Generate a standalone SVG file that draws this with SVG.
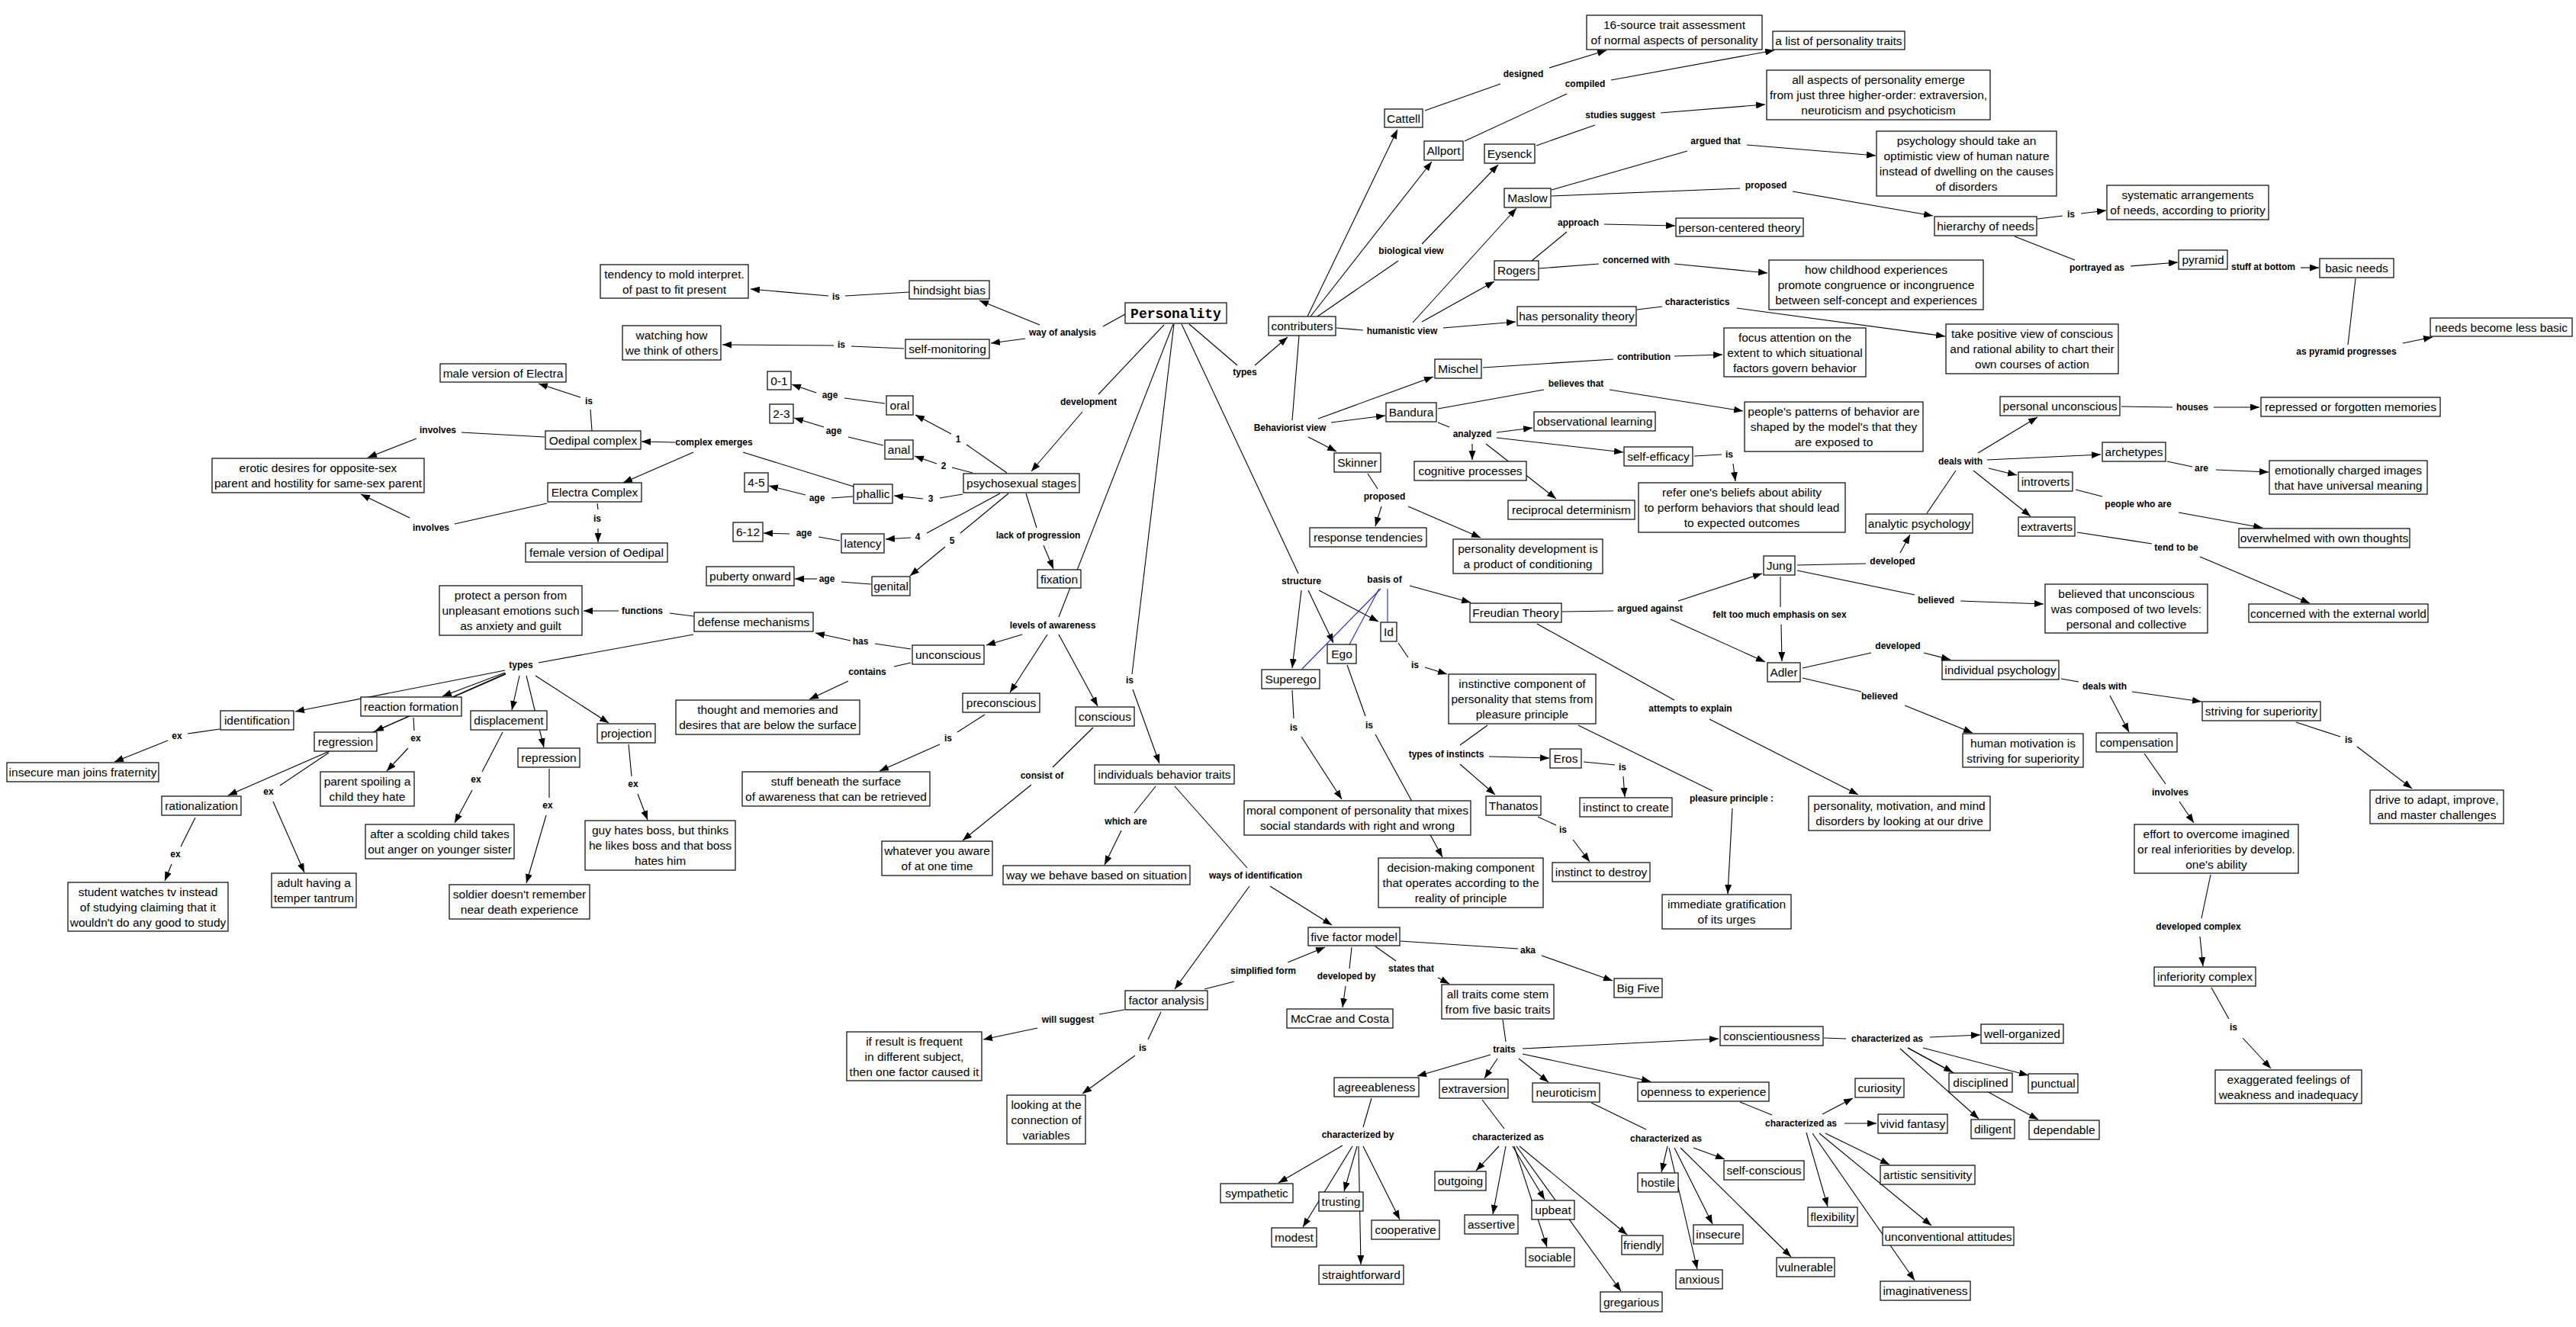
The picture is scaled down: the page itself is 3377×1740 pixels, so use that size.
<svg xmlns="http://www.w3.org/2000/svg" width="3377" height="1740" viewBox="0 0 3377 1740">
<style>
.bg{fill:#fff}
.n rect{fill:#fff;stroke:#000;stroke-width:1.2}
.n text{font-family:"Liberation Sans",Arial,sans-serif;font-size:15.5px;text-anchor:middle;fill:#000}
.n text.root{font-family:"Liberation Mono","Courier New",monospace;font-size:18px;font-weight:bold}
.lb text{font-family:"Liberation Sans",Arial,sans-serif;font-size:12px;font-weight:bold;text-anchor:middle;fill:#000}
.c path{stroke:#000;stroke-width:1.1;fill:none}
.c path.a{marker-end:url(#ah)}
.c path.b{stroke:#2222cc}
</style>
<defs>
<marker id="ah" viewBox="0 0 12 9" refX="12" refY="4.5" markerWidth="12" markerHeight="9" markerUnits="userSpaceOnUse" orient="auto"><path d="M0,0 L12,4.5 L0,9 z" fill="#000"/></marker>
</defs>
<rect class="bg" x="0" y="0" width="3377" height="1740"/>
<g id="connectors" class="c">
<path d="M1475,412 L1446,428"/><path class="a" d="M1363,426 L1284,394"/><path class="a" d="M1344,444 L1299,450"/>
<path d="M1192,383 L1108,388"/><path class="a" d="M1086,388 L984,379"/>
<path d="M1185,457 L1116,454"/><path class="a" d="M1093,453 L947,452"/>
<path d="M1526,426 L1440,517"/><path class="a" d="M1419,540 L1352,618"/>
<path d="M1320,620 L1267,583"/><path class="a" d="M1247,569 L1200,544"/>
<path d="M1275,620 L1248,613"/><path class="a" d="M1228,608 L1199,598"/>
<path d="M1262,648 L1232,653"/><path class="a" d="M1210,654 L1172,650"/>
<path d="M1311,647 L1215,699"/><path class="a" d="M1194,705 L1161,707"/>
<path d="M1322,647 L1259,699"/><path class="a" d="M1239,717 L1193,755"/>
<path d="M1345,647 L1359,692"/><path class="a" d="M1368,715 L1381,746"/>
<path d="M1160,529 L1107,522"/><path class="a" d="M1070,515 L1038,504"/>
<path d="M1158,584 L1112,573"/><path class="a" d="M1080,560 L1041,548"/>
<path d="M1118,651 L1090,653"/><path class="a" d="M1056,649 L1008,637"/>
<path d="M1119,638 L974,593"/><path class="a" d="M885,580 L841,579"/><path class="a" d="M909,593 L817,633"/>
<path d="M1101,709 L1073,704"/><path class="a" d="M1035,700 L1001,699"/>
<path d="M1142,766 L1103,763"/><path class="a" d="M1071,759 L1042,759"/>
<path d="M776,565 L774,537"/><path class="a" d="M761,521 L706,503"/>
<path d="M714,573 L605,567"/><path class="a" d="M546,575 L482,600"/>
<path d="M717,660 L596,687"/><path class="a" d="M537,679 L473,648"/>
<path d="M783,660 L784,668"/><path class="a" d="M784,693 L784,711"/>
<path d="M1559,425 L1622,479"/><path class="a" d="M1645,479 L1688,442"/>
<path d="M1538,425 L1388,809"/>
<path d="M1539,425 L1484,884"/><path class="a" d="M1485,904 L1520,1001"/>
<path d="M1549,425 L1702,752"/>
<path class="a" d="M1714,415 L1832,170"/><path class="a" d="M1718,415 L1877,212"/>
<path d="M1727,415 L1833,342"/><path class="a" d="M1864,320 L1964,216"/>
<path d="M1752,430 L1787,433"/><path class="a" d="M1852,423 L1988,273"/><path class="a" d="M1864,422 L1959,369"/><path class="a" d="M1892,430 L1987,422"/>
<path d="M1868,145 L1967,110"/><path class="a" d="M2031,89 L2106,66"/>
<path d="M1920,185 L2054,123"/><path class="a" d="M2112,105 L2326,66"/>
<path d="M2014,191 L2091,164"/><path class="a" d="M2177,148 L2314,137"/>
<path d="M2034,249 L2212,198"/><path class="a" d="M2290,190 L2459,204"/>
<path d="M2034,257 L2281,247"/><path class="a" d="M2350,251 L2534,283"/>
<path d="M2008,342 L2054,304"/><path class="a" d="M2103,294 L2196,296"/>
<path d="M2017,352 L2096,346"/><path class="a" d="M2195,346 L2317,358"/>
<path d="M2146,406 L2179,402"/><path class="a" d="M2277,404 L2550,441"/>
<path d="M2671,287 L2704,283"/><path class="a" d="M2728,280 L2761,276"/>
<path d="M2641,310 L2720,341"/><path class="a" d="M2793,349 L2855,344"/>
<path class="a" d="M3016,351 L3040,351"/>
<path d="M3088,365 L3078,452"/><path class="a" d="M3150,450 L3189,442"/>
<path d="M1944,482 L2115,471"/><path class="a" d="M2195,467 L2258,465"/>
<path d="M1703,440 L1694,551"/>
<path class="a" d="M1728,549 L1879,494"/><path class="a" d="M1745,554 L1816,545"/><path class="a" d="M1715,573 L1752,592"/>
<path d="M1885,536 L2024,511"/><path class="a" d="M2110,511 L2285,539"/>
<path d="M1885,554 L1900,560"/>
<path class="a" d="M1962,567 L2009,561"/><path class="a" d="M1962,574 L2128,593"/><path class="a" d="M1930,582 L1930,603"/><path class="a" d="M1948,582 L2040,654"/>
<path d="M2221,598 L2257,596"/><path class="a" d="M2272,608 L2275,631"/>
<path d="M1793,621 L1806,641"/><path class="a" d="M1811,664 L1803,690"/><path class="a" d="M1846,664 L1941,705"/>
<path class="a" d="M1706,774 L1694,876"/><path class="a" d="M1715,774 L1748,843"/><path class="a" d="M1729,774 L1807,815"/>
<path class="b" d="M1810,772 L1707,877"/><path class="b" d="M1808,772 L1769,845"/><path class="b" d="M1819,772 L1819,816"/>
<path class="a" d="M1848,768 L1928,790"/>
<path d="M2048,802 L2115,801"/>
<path class="a" d="M2200,788 L2310,752"/><path class="a" d="M2190,812 L2314,868"/>
<path d="M2334,756 L2334,796"/><path class="a" d="M2335,819 L2336,867"/>
<path d="M2356,741 L2446,739"/><path class="a" d="M2491,725 L2504,701"/>
<path d="M2356,748 L2510,780"/><path class="a" d="M2570,788 L2679,792"/>
<path d="M2015,818 L2195,918"/><path class="a" d="M2241,943 L2436,1042"/>
<path d="M2526,673 L2564,617"/>
<path class="a" d="M2593,594 L2671,547"/><path class="a" d="M2605,603 L2754,596"/><path class="a" d="M2607,614 L2644,623"/><path class="a" d="M2587,617 L2662,677"/>
<path d="M2781,533 L2848,534"/><path class="a" d="M2902,534 L2962,534"/>
<path d="M2841,605 L2874,612"/><path class="a" d="M2905,616 L2974,619"/>
<path d="M2721,642 L2756,651"/><path class="a" d="M2856,672 L2966,692"/>
<path d="M2723,698 L2821,713"/><path class="a" d="M2884,730 L3028,791"/>
<path d="M2363,876 L2453,856"/><path class="a" d="M2522,856 L2557,865"/>
<path d="M2363,889 L2440,907"/><path class="a" d="M2497,925 L2586,961"/>
<path d="M1833,843 L1846,862"/><path class="a" d="M1868,875 L1897,884"/>
<path d="M1694,905 L1696,942"/><path class="a" d="M1706,966 L1759,1048"/>
<path d="M1766,872 L1790,939"/><path class="a" d="M1803,963 L1891,1124"/>
<path d="M1950,951 L1914,977"/>
<path class="a" d="M1952,992 L2031,994"/><path class="a" d="M1914,1002 L1960,1042"/>
<path d="M2076,999 L2117,1003"/><path class="a" d="M2128,1018 L2130,1045"/>
<path d="M2016,1071 L2040,1082"/><path class="a" d="M2062,1101 L2084,1130"/>
<path d="M2069,951 L2245,1037"/><path class="a" d="M2271,1060 L2265,1172"/>
<path d="M1836,1234 L1990,1244"/><path class="a" d="M2021,1253 L2114,1286"/>
<path d="M1540,1031 L1635,1138"/>
<path class="a" d="M1665,1162 L1746,1213"/><path class="a" d="M1638,1162 L1540,1297"/>
<path d="M909,808 L878,804"/><path class="a" d="M811,801 L765,801"/>
<path d="M909,832 L706,869"/>
<path d="M1194,851 L1147,844"/><path class="a" d="M1115,840 L1069,830"/>
<path d="M1194,869 L1172,874"/><path class="a" d="M1112,893 L1061,917"/>
<path class="a" d="M1340,832 L1293,846"/><path class="a" d="M1373,832 L1324,908"/><path class="a" d="M1388,832 L1439,926"/>
<path d="M1291,937 L1255,960"/><path class="a" d="M1232,976 L1153,1011"/>
<path d="M1433,954 L1380,1006"/><path class="a" d="M1352,1029 L1262,1102"/>
<path d="M1515,1031 L1487,1066"/><path class="a" d="M1470,1089 L1448,1134"/>
<path d="M824,976 L828,1018"/><path class="a" d="M836,1041 L849,1075"/>
<path class="a" d="M662,879 L387,933"/><path class="a" d="M662,882 L580,913"/><path class="a" d="M663,883 L491,959"/><path class="a" d="M663,884 L299,1043"/>
<path class="a" d="M681,886 L671,931"/><path class="a" d="M690,886 L713,980"/><path class="a" d="M702,886 L798,948"/>
<path d="M288,956 L246,962"/><path class="a" d="M220,971 L150,999"/>
<path d="M542,941 L543,958"/><path class="a" d="M535,981 L507,1011"/>
<path d="M431,987 L367,1030"/><path class="a" d="M358,1051 L399,1144"/>
<path d="M256,1072 L237,1110"/><path class="a" d="M225,1133 L216,1155"/>
<path d="M659,960 L632,1012"/><path class="a" d="M619,1036 L596,1079"/>
<path d="M720,1008 L720,1046"/><path class="a" d="M716,1069 L690,1158"/>
<path d="M1579,1297 L1618,1287"/><path class="a" d="M1688,1262 L1737,1242"/>
<path d="M1474,1324 L1441,1330"/><path class="a" d="M1360,1348 L1289,1363"/>
<path d="M1522,1327 L1505,1363"/><path class="a" d="M1488,1384 L1419,1434"/>
<path d="M1772,1242 L1769,1270"/><path class="a" d="M1764,1293 L1760,1321"/>
<path d="M1803,1241 L1830,1260"/><path class="a" d="M1885,1282 L1900,1290"/>
<path d="M1970,1337 L1974,1366"/>
<path class="a" d="M1996,1375 L2253,1362"/><path class="a" d="M1954,1383 L1858,1411"/><path class="a" d="M1963,1388 L1946,1414"/><path class="a" d="M1991,1388 L2030,1419"/><path class="a" d="M1996,1382 L2164,1418"/>
<path d="M2391,1361 L2420,1362"/>
<path class="a" d="M2530,1360 L2596,1357"/><path class="a" d="M2501,1374 L2560,1406"/><path class="a" d="M2501,1374 L2672,1468"/><path class="a" d="M2521,1374 L2659,1410"/><path class="a" d="M2491,1375 L2594,1467"/>
<path d="M2281,1445 L2323,1462"/>
<path class="a" d="M2389,1461 L2429,1440"/><path class="a" d="M2418,1473 L2460,1473"/><path class="a" d="M2393,1486 L2477,1527"/><path class="a" d="M2368,1485 L2396,1582"/><path class="a" d="M2385,1486 L2532,1607"/><path class="a" d="M2376,1486 L2510,1679"/>
<path d="M1798,1440 L1787,1478"/>
<path class="a" d="M1760,1502 L1676,1551"/><path class="a" d="M1779,1503 L1762,1562"/><path class="a" d="M1773,1503 L1708,1609"/><path class="a" d="M1787,1503 L1835,1599"/><path class="a" d="M1781,1503 L1784,1658"/>
<path d="M1943,1442 L1972,1480"/>
<path class="a" d="M1965,1503 L1935,1535"/><path class="a" d="M1974,1503 L1957,1592"/><path class="a" d="M1983,1503 L2025,1573"/><path class="a" d="M1985,1503 L2028,1635"/><path class="a" d="M1992,1503 L2133,1619"/><path class="a" d="M1988,1503 L2125,1693"/>
<path d="M2086,1446 L2158,1481"/>
<path class="a" d="M2186,1503 L2178,1537"/><path class="a" d="M2220,1505 L2261,1520"/><path class="a" d="M2188,1505 L2225,1664"/><path class="a" d="M2195,1505 L2245,1605"/><path class="a" d="M2203,1505 L2348,1648"/>
<path d="M2702,890 L2725,894"/>
<path class="a" d="M2795,907 L2886,920"/><path class="a" d="M2766,912 L2791,960"/>
<path d="M3010,947 L3068,966"/><path class="a" d="M3090,979 L3162,1034"/>
<path d="M2811,988 L2839,1028"/><path class="a" d="M2857,1051 L2876,1079"/>
<path d="M2898,1147 L2886,1204"/><path class="a" d="M2884,1228 L2888,1267"/>
<path d="M2899,1295 L2922,1336"/><path class="a" d="M2940,1361 L2977,1401"/>
</g>
<g id="nodes">
<g id="n-personality" class="n"><rect x="1475" y="397" width="133" height="27"/><text class="root" x="1541.5" y="416.5">Personality</text></g>
<g id="n-tendency" class="n"><rect x="787" y="347" width="194" height="44"/><text x="884" y="364.5">tendency to mold interpret.</text><text x="884" y="384.5">of past to fit present</text></g>
<g id="n-hindsight" class="n"><rect x="1192" y="368" width="105" height="24"/><text x="1244.5" y="385.5">hindsight bias</text></g>
<g id="n-watching" class="n"><rect x="816" y="427" width="129" height="45"/><text x="880.5" y="445">watching how</text><text x="880.5" y="465">we think of others</text></g>
<g id="n-selfmon" class="n"><rect x="1187" y="445" width="110" height="25"/><text x="1242" y="463">self-monitoring</text></g>
<g id="n-male" class="n"><rect x="577" y="477" width="165" height="24"/><text x="659.5" y="494.5">male version of Electra</text></g>
<g id="n-oedipal" class="n"><rect x="715" y="565" width="125" height="24"/><text x="777.5" y="582.5">Oedipal complex</text></g>
<g id="n-erotic" class="n"><rect x="278" y="601" width="278" height="45"/><text x="417" y="619">erotic desires for opposite-sex</text><text x="417" y="639">parent and hostility for same-sex parent</text></g>
<g id="n-electra" class="n"><rect x="718" y="633" width="123" height="25"/><text x="779.5" y="651">Electra Complex</text></g>
<g id="n-female" class="n"><rect x="689" y="712" width="186" height="25"/><text x="782" y="730">female version of Oedipal</text></g>
<g id="n-age01" class="n"><rect x="1006" y="487" width="31" height="24"/><text x="1021.5" y="504.5">0-1</text></g>
<g id="n-oral" class="n"><rect x="1162" y="519" width="35" height="25"/><text x="1179.5" y="537">oral</text></g>
<g id="n-age23" class="n"><rect x="1009" y="530" width="31" height="25"/><text x="1024.5" y="548">2-3</text></g>
<g id="n-anal" class="n"><rect x="1160" y="577" width="37" height="25"/><text x="1178.5" y="595">anal</text></g>
<g id="n-psychosexual" class="n"><rect x="1263" y="621" width="152" height="25"/><text x="1339" y="639">psychosexual stages</text></g>
<g id="n-age45" class="n"><rect x="976" y="620" width="31" height="25"/><text x="991.5" y="638">4-5</text></g>
<g id="n-phallic" class="n"><rect x="1119" y="635" width="51" height="25"/><text x="1144.5" y="653">phallic</text></g>
<g id="n-age612" class="n"><rect x="961" y="685" width="39" height="25"/><text x="980.5" y="703">6-12</text></g>
<g id="n-latency" class="n"><rect x="1103" y="700" width="56" height="25"/><text x="1131" y="718">latency</text></g>
<g id="n-puberty" class="n"><rect x="926" y="743" width="115" height="25"/><text x="983.5" y="761">puberty onward</text></g>
<g id="n-genital" class="n"><rect x="1143" y="756" width="50" height="25"/><text x="1168" y="774">genital</text></g>
<g id="n-fixation" class="n"><rect x="1360" y="747" width="57" height="24"/><text x="1388.5" y="764.5">fixation</text></g>
<g id="n-protect" class="n"><rect x="576" y="768" width="187" height="65"/><text x="669.5" y="786">protect a person from</text><text x="669.5" y="806">unpleasant emotions such</text><text x="669.5" y="826">as anxiety and guilt</text></g>
<g id="n-defense" class="n"><rect x="910" y="803" width="156" height="25"/><text x="988" y="821">defense mechanisms</text></g>
<g id="n-unconscious" class="n"><rect x="1196" y="846" width="94" height="25"/><text x="1243" y="864">unconscious</text></g>
<g id="n-thought" class="n"><rect x="886" y="918" width="241" height="45"/><text x="1006.5" y="936">thought and memories and</text><text x="1006.5" y="956">desires that are below the surface</text></g>
<g id="n-preconscious" class="n"><rect x="1262" y="909" width="101" height="25"/><text x="1312.5" y="927">preconscious</text></g>
<g id="n-conscious" class="n"><rect x="1410" y="927" width="77" height="25"/><text x="1448.5" y="945">conscious</text></g>
<g id="n-reaction" class="n"><rect x="473" y="914" width="132" height="25"/><text x="539" y="932">reaction formation</text></g>
<g id="n-identification" class="n"><rect x="289" y="932" width="96" height="25"/><text x="337" y="950">identification</text></g>
<g id="n-displacement" class="n"><rect x="617" y="932" width="100" height="25"/><text x="667" y="950">displacement</text></g>
<g id="n-projection" class="n"><rect x="783" y="949" width="76" height="25"/><text x="821" y="967">projection</text></g>
<g id="n-regression" class="n"><rect x="412" y="960" width="82" height="25"/><text x="453" y="978">regression</text></g>
<g id="n-repression" class="n"><rect x="679" y="981" width="81" height="25"/><text x="719.5" y="999">repression</text></g>
<g id="n-insecureman" class="n"><rect x="9" y="1000" width="199" height="25"/><text x="108.5" y="1018">insecure man joins fraternity</text></g>
<g id="n-parent" class="n"><rect x="420" y="1012" width="123" height="45"/><text x="481.5" y="1030">parent spoiling a</text><text x="481.5" y="1050">child they hate</text></g>
<g id="n-stuff" class="n"><rect x="973" y="1012" width="246" height="45"/><text x="1096" y="1030">stuff beneath the surface</text><text x="1096" y="1050">of awareness that can be retrieved</text></g>
<g id="n-ibt" class="n"><rect x="1435" y="1003" width="183" height="25"/><text x="1526.5" y="1021">individuals behavior traits</text></g>
<g id="n-rationalization" class="n"><rect x="212" y="1044" width="104" height="25"/><text x="264" y="1062">rationalization</text></g>
<g id="n-guy" class="n"><rect x="767" y="1076" width="197" height="65"/><text x="865.5" y="1094">guy hates boss, but thinks</text><text x="865.5" y="1114">he likes boss and that boss</text><text x="865.5" y="1134">hates him</text></g>
<g id="n-scolding" class="n"><rect x="479" y="1081" width="195" height="45"/><text x="576.5" y="1099">after a scolding child takes</text><text x="576.5" y="1119">out anger on younger sister</text></g>
<g id="n-whatever" class="n"><rect x="1156" y="1103" width="145" height="45"/><text x="1228.5" y="1121">whatever you aware</text><text x="1228.5" y="1141">of at one time</text></g>
<g id="n-waywebehave" class="n"><rect x="1315" y="1135" width="245" height="25"/><text x="1437.5" y="1153">way we behave based on situation</text></g>
<g id="n-adult" class="n"><rect x="356" y="1145" width="111" height="45"/><text x="411.5" y="1163">adult having a</text><text x="411.5" y="1183">temper tantrum</text></g>
<g id="n-student" class="n"><rect x="89" y="1157" width="210" height="64"/><text x="194" y="1174.5">student watches tv instead</text><text x="194" y="1194.5">of studying claiming that it</text><text x="194" y="1214.5">wouldn't do any good to study</text></g>
<g id="n-soldier" class="n"><rect x="589" y="1160" width="184" height="45"/><text x="681" y="1178">soldier doesn't remember</text><text x="681" y="1198">near death experience</text></g>
<g id="n-16source" class="n"><rect x="2080" y="20" width="230" height="45"/><text x="2195" y="38">16-source trait assessment</text><text x="2195" y="58">of normal  aspects of personality</text></g>
<g id="n-list" class="n"><rect x="2324" y="41" width="173" height="24"/><text x="2410.5" y="58.5">a list of personality traits</text></g>
<g id="n-allaspects" class="n"><rect x="2316" y="92" width="293" height="65"/><text x="2462.5" y="110">all aspects of personality emerge</text><text x="2462.5" y="130">from just three higher-order: extraversion,</text><text x="2462.5" y="150">neuroticism and psychoticism</text></g>
<g id="n-cattell" class="n"><rect x="1815" y="143" width="50" height="24"/><text x="1840" y="160.5">Cattell</text></g>
<g id="n-allport" class="n"><rect x="1867" y="185" width="51" height="25"/><text x="1892.5" y="203">Allport</text></g>
<g id="n-eysenck" class="n"><rect x="1946" y="189" width="66" height="25"/><text x="1979" y="207">Eysenck</text></g>
<g id="n-psychology" class="n"><rect x="2460" y="172" width="236" height="85"/><text x="2578" y="190">psychology should take an</text><text x="2578" y="210">optimistic view of human nature</text><text x="2578" y="230">instead of dwelling on the causes</text><text x="2578" y="250">of disorders</text></g>
<g id="n-maslow" class="n"><rect x="1972" y="247" width="61" height="25"/><text x="2002.5" y="265">Maslow</text></g>
<g id="n-hierarchy" class="n"><rect x="2536" y="284" width="134" height="25"/><text x="2603" y="302">hierarchy of needs</text></g>
<g id="n-personcentered" class="n"><rect x="2197" y="286" width="167" height="24"/><text x="2280.5" y="303.5">person-centered theory</text></g>
<g id="n-rogers" class="n"><rect x="1959" y="342" width="58" height="25"/><text x="1988" y="360">Rogers</text></g>
<g id="n-childhood" class="n"><rect x="2319" y="341" width="281" height="65"/><text x="2459.5" y="359">how childhood experiences</text><text x="2459.5" y="379">promote congruence or incongruence</text><text x="2459.5" y="399">between  self-concept and experiences</text></g>
<g id="n-haspt" class="n"><rect x="1989" y="402" width="156" height="25"/><text x="2067" y="420">has personality theory</text></g>
<g id="n-contributers" class="n"><rect x="1663" y="415" width="88" height="25"/><text x="1707" y="433">contributers</text></g>
<g id="n-takepositive" class="n"><rect x="2551" y="425" width="226" height="65"/><text x="2664" y="443">take positive view of conscious</text><text x="2664" y="463">and rational ability to chart their</text><text x="2664" y="483">own courses of action</text></g>
<g id="n-systematic" class="n"><rect x="2762" y="243" width="212" height="45"/><text x="2868" y="261">systematic arrangements</text><text x="2868" y="281">of needs, according to priority</text></g>
<g id="n-pyramid" class="n"><rect x="2856" y="328" width="64" height="25"/><text x="2888" y="346">pyramid</text></g>
<g id="n-basicneeds" class="n"><rect x="3041" y="339" width="97" height="25"/><text x="3089.5" y="357">basic needs</text></g>
<g id="n-lessbasic" class="n"><rect x="3186" y="417" width="186" height="24"/><text x="3279" y="434.5">needs become less basic</text></g>
<g id="n-focus" class="n"><rect x="2260" y="430" width="186" height="64"/><text x="2353" y="447.5">focus attention on the</text><text x="2353" y="467.5">extent to which situational</text><text x="2353" y="487.5">factors govern behavior</text></g>
<g id="n-mischel" class="n"><rect x="1881" y="471" width="61" height="25"/><text x="1911.5" y="489">Mischel</text></g>
<g id="n-bandura" class="n"><rect x="1817" y="528" width="66" height="25"/><text x="1850" y="546">Bandura</text></g>
<g id="n-observational" class="n"><rect x="2011" y="540" width="159" height="25"/><text x="2090.5" y="558">observational learning</text></g>
<g id="n-patterns" class="n"><rect x="2287" y="527" width="234" height="65"/><text x="2404" y="545">people's patterns of behavior are</text><text x="2404" y="565">shaped by the model's that they</text><text x="2404" y="585">are exposed to</text></g>
<g id="n-skinner" class="n"><rect x="1749" y="594" width="61" height="25"/><text x="1779.5" y="612">Skinner</text></g>
<g id="n-cognitive" class="n"><rect x="1854" y="605" width="147" height="25"/><text x="1927.5" y="623">cognitive processes</text></g>
<g id="n-selfefficacy" class="n"><rect x="2129" y="586" width="90" height="25"/><text x="2174" y="604">self-efficacy</text></g>
<g id="n-refer" class="n"><rect x="2148" y="633" width="271" height="65"/><text x="2283.5" y="651">refer one's beliefs about ability</text><text x="2283.5" y="671">to perform behaviors that should lead</text><text x="2283.5" y="691">to expected outcomes</text></g>
<g id="n-reciprocal" class="n"><rect x="1977" y="656" width="166" height="25"/><text x="2060" y="674">reciprocal determinism</text></g>
<g id="n-response" class="n"><rect x="1717" y="692" width="153" height="25"/><text x="1793.5" y="710">response tendencies</text></g>
<g id="n-persdev" class="n"><rect x="1905" y="707" width="196" height="45"/><text x="2003" y="725">personality development is</text><text x="2003" y="745">a product of conditioning</text></g>
<g id="n-analytic" class="n"><rect x="2446" y="674" width="140" height="25"/><text x="2516" y="692">analytic psychology</text></g>
<g id="n-jung" class="n"><rect x="2312" y="729" width="41" height="25"/><text x="2332.5" y="747">Jung</text></g>
<g id="n-freudian" class="n"><rect x="1927" y="791" width="120" height="25"/><text x="1987" y="809">Freudian Theory</text></g>
<g id="n-id" class="n"><rect x="1810" y="816" width="21" height="25"/><text x="1820.5" y="834">Id</text></g>
<g id="n-ego" class="n"><rect x="1740" y="845" width="38" height="25"/><text x="1759" y="863">Ego</text></g>
<g id="n-superego" class="n"><rect x="1654" y="878" width="76" height="25"/><text x="1692" y="896">Superego</text></g>
<g id="n-personalunc" class="n"><rect x="2622" y="520" width="157" height="25"/><text x="2700.5" y="538">personal unconscious</text></g>
<g id="n-repressed" class="n"><rect x="2964" y="521" width="235" height="25"/><text x="3081.5" y="539">repressed or forgotten memories</text></g>
<g id="n-archetypes" class="n"><rect x="2756" y="580" width="83" height="25"/><text x="2797.5" y="598">archetypes</text></g>
<g id="n-emotionally" class="n"><rect x="2975" y="604" width="207" height="44"/><text x="3078.5" y="621.5">emotionally charged images</text><text x="3078.5" y="641.5">that have universal meaning</text></g>
<g id="n-introverts" class="n"><rect x="2646" y="619" width="71" height="25"/><text x="2681.5" y="637">introverts</text></g>
<g id="n-extraverts" class="n"><rect x="2646" y="678" width="74" height="25"/><text x="2683" y="696">extraverts</text></g>
<g id="n-overwhelmed" class="n"><rect x="2935" y="693" width="224" height="25"/><text x="3047" y="711">overwhelmed with own thoughts</text></g>
<g id="n-external" class="n"><rect x="2948" y="792" width="235" height="24"/><text x="3065.5" y="809.5">concerned with the external world</text></g>
<g id="n-twolevels" class="n"><rect x="2681" y="766" width="213" height="64"/><text x="2787.5" y="783.5">believed that unconscious</text><text x="2787.5" y="803.5">was composed of two levels:</text><text x="2787.5" y="823.5">personal and collective</text></g>
<g id="n-adler" class="n"><rect x="2317" y="869" width="43" height="25"/><text x="2338.5" y="887">Adler</text></g>
<g id="n-individual" class="n"><rect x="2546" y="866" width="153" height="25"/><text x="2622.5" y="884">individual psychology</text></g>
<g id="n-instinctive" class="n"><rect x="1899" y="884" width="193" height="65"/><text x="1995.5" y="902">instinctive component of</text><text x="1995.5" y="922">personality that stems from</text><text x="1995.5" y="942">pleasure principle</text></g>
<g id="n-humanmot" class="n"><rect x="2573" y="962" width="158" height="44"/><text x="2652" y="979.5">human motivation is</text><text x="2652" y="999.5">striving for superiority</text></g>
<g id="n-compensation" class="n"><rect x="2748" y="961" width="106" height="25"/><text x="2801" y="979">compensation</text></g>
<g id="n-eros" class="n"><rect x="2032" y="982" width="41" height="25"/><text x="2052.5" y="1000">Eros</text></g>
<g id="n-thanatos" class="n"><rect x="1948" y="1044" width="72" height="25"/><text x="1984" y="1062">Thanatos</text></g>
<g id="n-create" class="n"><rect x="2071" y="1046" width="121" height="25"/><text x="2131.5" y="1064">instinct to create</text></g>
<g id="n-moral" class="n"><rect x="1631" y="1050" width="297" height="45"/><text x="1779.5" y="1068">moral component of personality that mixes</text><text x="1779.5" y="1088">social standards with right and wrong</text></g>
<g id="n-persmot" class="n"><rect x="2371" y="1044" width="238" height="45"/><text x="2490" y="1062">personality, motivation, and mind</text><text x="2490" y="1082">disorders by looking at our drive</text></g>
<g id="n-destroy" class="n"><rect x="2035" y="1131" width="128" height="25"/><text x="2099" y="1149">instinct to destroy</text></g>
<g id="n-decision" class="n"><rect x="1807" y="1125" width="216" height="65"/><text x="1915" y="1143">decision-making component</text><text x="1915" y="1163">that operates according to the</text><text x="1915" y="1183">reality of principle</text></g>
<g id="n-immediate" class="n"><rect x="2179" y="1173" width="169" height="45"/><text x="2263.5" y="1191">immediate gratification</text><text x="2263.5" y="1211">of its urges</text></g>
<g id="n-fivefactor" class="n"><rect x="1715" y="1216" width="120" height="24"/><text x="1775" y="1233.5">five factor model</text></g>
<g id="n-striving" class="n"><rect x="2887" y="920" width="155" height="25"/><text x="2964.5" y="938">striving for superiority</text></g>
<g id="n-drive" class="n"><rect x="3107" y="1036" width="175" height="44"/><text x="3194.5" y="1053.5">drive to adapt, improve,</text><text x="3194.5" y="1073.5">and master challenges</text></g>
<g id="n-effort" class="n"><rect x="2798" y="1081" width="215" height="64"/><text x="2905.5" y="1098.5">effort to overcome imagined</text><text x="2905.5" y="1118.5">or real inferiorities by develop.</text><text x="2905.5" y="1138.5">one's ability</text></g>
<g id="n-inferiority" class="n"><rect x="2824" y="1268" width="133" height="25"/><text x="2890.5" y="1286">inferiority complex</text></g>
<g id="n-exaggerated" class="n"><rect x="2904" y="1403" width="192" height="44"/><text x="3000" y="1420.5">exaggerated feelings of</text><text x="3000" y="1440.5">weakness and inadequacy</text></g>
<g id="n-factor" class="n"><rect x="1475" y="1299" width="108" height="25"/><text x="1529" y="1317">factor analysis</text></g>
<g id="n-mccrae" class="n"><rect x="1687" y="1323" width="139" height="25"/><text x="1756.5" y="1341">McCrae and Costa</text></g>
<g id="n-ifresult" class="n"><rect x="1110" y="1353" width="177" height="64"/><text x="1198.5" y="1370.5">if result is frequent</text><text x="1198.5" y="1390.5">in different subject,</text><text x="1198.5" y="1410.5">then one factor caused it</text></g>
<g id="n-looking" class="n"><rect x="1320" y="1436" width="103" height="64"/><text x="1371.5" y="1453.5">looking at the</text><text x="1371.5" y="1473.5">connection of</text><text x="1371.5" y="1493.5">variables</text></g>
<g id="n-bigfive" class="n"><rect x="2116" y="1283" width="63" height="25"/><text x="2147.5" y="1301">Big Five</text></g>
<g id="n-alltraits" class="n"><rect x="1890" y="1291" width="147" height="45"/><text x="1963.5" y="1309">all traits come stem</text><text x="1963.5" y="1329">from five basic traits</text></g>
<g id="n-conscientiousness" class="n"><rect x="2255" y="1346" width="135" height="25"/><text x="2322.5" y="1364">conscientiousness</text></g>
<g id="n-wellorganized" class="n"><rect x="2597" y="1343" width="108" height="25"/><text x="2651" y="1361">well-organized</text></g>
<g id="n-agreeableness" class="n"><rect x="1749" y="1413" width="111" height="25"/><text x="1804.5" y="1431">agreeableness</text></g>
<g id="n-extraversion" class="n"><rect x="1887" y="1415" width="90" height="25"/><text x="1932" y="1433">extraversion</text></g>
<g id="n-neuroticism" class="n"><rect x="2009" y="1420" width="88" height="25"/><text x="2053" y="1438">neuroticism</text></g>
<g id="n-openness" class="n"><rect x="2147" y="1419" width="172" height="25"/><text x="2233" y="1437">openness to experience</text></g>
<g id="n-curiosity" class="n"><rect x="2432" y="1414" width="64" height="25"/><text x="2464" y="1432">curiosity</text></g>
<g id="n-disciplined" class="n"><rect x="2555" y="1407" width="83" height="25"/><text x="2596.5" y="1425">disciplined</text></g>
<g id="n-punctual" class="n"><rect x="2659" y="1408" width="65" height="25"/><text x="2691.5" y="1426">punctual</text></g>
<g id="n-vivid" class="n"><rect x="2462" y="1461" width="91" height="25"/><text x="2507.5" y="1479">vivid fantasy</text></g>
<g id="n-diligent" class="n"><rect x="2584" y="1468" width="57" height="25"/><text x="2612.5" y="1486">diligent</text></g>
<g id="n-dependable" class="n"><rect x="2660" y="1469" width="92" height="25"/><text x="2706" y="1487">dependable</text></g>
<g id="n-sympathetic" class="n"><rect x="1600" y="1552" width="95" height="25"/><text x="1647.5" y="1570">sympathetic</text></g>
<g id="n-outgoing" class="n"><rect x="1881" y="1536" width="67" height="25"/><text x="1914.5" y="1554">outgoing</text></g>
<g id="n-hostile" class="n"><rect x="2147" y="1538" width="53" height="25"/><text x="2173.5" y="1556">hostile</text></g>
<g id="n-selfconscious" class="n"><rect x="2260" y="1522" width="105" height="25"/><text x="2312.5" y="1540">self-conscious</text></g>
<g id="n-artistic" class="n"><rect x="2465" y="1528" width="124" height="25"/><text x="2527" y="1546">artistic sensitivity</text></g>
<g id="n-trusting" class="n"><rect x="1729" y="1563" width="58" height="25"/><text x="1758" y="1581">trusting</text></g>
<g id="n-cooperative" class="n"><rect x="1798" y="1600" width="89" height="25"/><text x="1842.5" y="1618">cooperative</text></g>
<g id="n-assertive" class="n"><rect x="1920" y="1593" width="70" height="25"/><text x="1955" y="1611">assertive</text></g>
<g id="n-upbeat" class="n"><rect x="2008" y="1574" width="56" height="25"/><text x="2036" y="1592">upbeat</text></g>
<g id="n-flexibility" class="n"><rect x="2370" y="1583" width="65" height="25"/><text x="2402.5" y="1601">flexibility</text></g>
<g id="n-modest" class="n"><rect x="1667" y="1610" width="59" height="25"/><text x="1696.5" y="1628">modest</text></g>
<g id="n-friendly" class="n"><rect x="2126" y="1620" width="54" height="25"/><text x="2153" y="1638">friendly</text></g>
<g id="n-insecure" class="n"><rect x="2220" y="1606" width="65" height="25"/><text x="2252.5" y="1624">insecure</text></g>
<g id="n-unconventional" class="n"><rect x="2468" y="1609" width="172" height="24"/><text x="2554" y="1626.5">unconventional attitudes</text></g>
<g id="n-sociable" class="n"><rect x="2000" y="1636" width="64" height="25"/><text x="2032" y="1654">sociable</text></g>
<g id="n-vulnerable" class="n"><rect x="2329" y="1649" width="76" height="25"/><text x="2367" y="1667">vulnerable</text></g>
<g id="n-straightforward" class="n"><rect x="1729" y="1659" width="111" height="25"/><text x="1784.5" y="1677">straightforward</text></g>
<g id="n-anxious" class="n"><rect x="2197" y="1665" width="61" height="25"/><text x="2227.5" y="1683">anxious</text></g>
<g id="n-imaginativeness" class="n"><rect x="2465" y="1680" width="118" height="25"/><text x="2524" y="1698">imaginativeness</text></g>
<g id="n-gregarious" class="n"><rect x="2098" y="1694" width="81" height="26"/><text x="2138.5" y="1712.5">gregarious</text></g>
</g>
<g id="labels" class="lb">
<text x="772" y="530">is</text><text x="574" y="568">involves</text><text x="565" y="696">involves</text><text x="783" y="684">is</text>
<text x="936" y="584">complex emerges</text><text x="1096" y="393">is</text><text x="1103" y="456">is</text>
<text x="1393" y="440">way of analysis</text><text x="1427" y="531">development</text><text x="1632" y="492">types</text>
<text x="1088" y="522">age</text><text x="1093" y="569">age</text><text x="1256" y="580">1</text><text x="1237" y="615">2</text><text x="1220" y="658">3</text>
<text x="1071" y="657">age</text><text x="1203" y="708">4</text><text x="1248" y="713">5</text><text x="1054" y="703">age</text><text x="1084" y="763">age</text>
<text x="1361" y="706">lack of progression</text>
<text x="1997" y="101">designed</text><text x="2078" y="114">compiled</text><text x="2124" y="155">studies suggest</text>
<text x="2249" y="189">argued that</text><text x="2315" y="247">proposed</text><text x="2069" y="296">approach</text>
<text x="1850" y="333">biological view</text><text x="2145" y="345">concerned with</text><text x="2225" y="400">characteristics</text>
<text x="1838" y="438">humanistic view</text><text x="2155" y="472">contribution</text>
<text x="2715" y="285">is</text><text x="2749" y="355">portrayed as</text><text x="2967" y="354">stuff at bottom</text><text x="3076" y="465">as pyramid progresses</text>
<text x="2066" y="507">believes that</text><text x="1691" y="565">Behaviorist view</text><text x="1930" y="573">analyzed</text>
<text x="2267" y="600">is</text><text x="1815" y="655">proposed</text><text x="2481" y="740">developed</text>
<text x="1706" y="766">structure</text><text x="1815" y="764">basis of</text><text x="2163" y="802">argued against</text>
<text x="2333" y="810">felt too much emphasis on sex</text><text x="2538" y="791">believed</text><text x="2570" y="609">deals with</text>
<text x="2874" y="538">houses</text><text x="2886" y="618">are</text><text x="2803" y="665">people who are</text><text x="2853" y="722">tend to be</text>
<text x="2488" y="851">developed</text><text x="2464" y="917">believed</text><text x="2759" y="904">deals with</text>
<text x="1855" y="876">is</text><text x="1696" y="958">is</text><text x="1795" y="955">is</text>
<text x="2216" y="933">attempts to explain</text><text x="1896" y="993">types of instincts</text>
<text x="2127" y="1010">is</text><text x="2049" y="1092">is</text><text x="2270" y="1051">pleasure principle :</text>
<text x="1646" y="1152">ways of identification</text><text x="2003" y="1250">aka</text>
<text x="842" y="805">functions</text><text x="1128" y="845">has</text><text x="1380" y="824">levels of awareness</text>
<text x="1137" y="885">contains</text><text x="1481" y="896">is</text><text x="1243" y="972">is</text>
<text x="830" y="1032">ex</text><text x="1366" y="1021">consist of</text><text x="1476" y="1081">which are</text>
<text x="683" y="876">types</text><text x="232" y="969">ex</text><text x="545" y="972">ex</text><text x="352" y="1042">ex</text>
<text x="624" y="1026">ex</text><text x="718" y="1060">ex</text><text x="230" y="1124">ex</text>
<text x="1656" y="1277">simplified form</text><text x="1765" y="1284">developed by</text><text x="1400" y="1341">will suggest</text>
<text x="1498" y="1378">is</text><text x="1780" y="1492">characterized by</text><text x="1850" y="1274">states that</text>
<text x="1972" y="1380">traits</text><text x="2474" y="1366">characterized as</text><text x="1977" y="1495">characterized as</text>
<text x="2184" y="1497">characterized as</text><text x="2361" y="1477">characterized as</text>
<text x="3079" y="974">is</text><text x="2845" y="1043">involves</text><text x="2882" y="1219">developed complex</text><text x="2928" y="1351">is</text>
</g>
</svg>
